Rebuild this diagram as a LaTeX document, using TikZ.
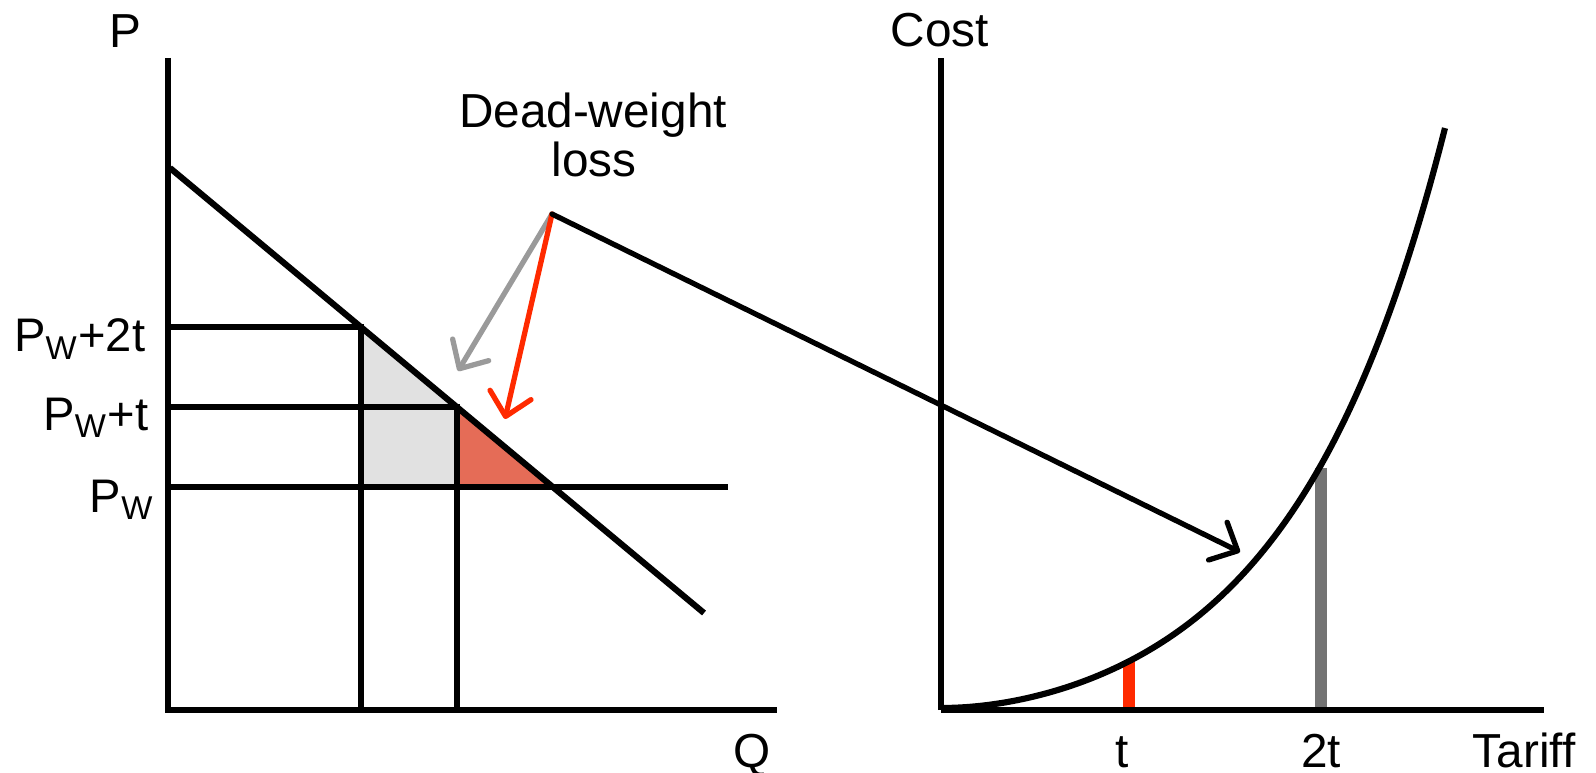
\documentclass[tikz,border=0pt]{standalone}
\usepackage{fontspec}
\setmainfont{Liberation Sans}
\usetikzlibrary{arrows.meta, positioning}
\definecolor{shadegray}{HTML}{E1E1E1}
\definecolor{shadered}{HTML}{E56C57}
\definecolor{arrowgray}{HTML}{9A9A9A}
\definecolor{tariffred}{HTML}{FF2A00}
\definecolor{bargray}{HTML}{737373}

\begin{document}
\begin{tikzpicture}[x=0.01cm, y=-0.01cm]
    \tikzstyle{axis} = [line width=1.75pt, black]
    \tikzstyle{lbl} = [font=\fontsize{13.57}{16}\selectfont, inner sep=0pt, anchor=base]
    \tikzstyle{plbl} = [font=\fontsize{13.4}{16}\selectfont, inner sep=0pt, anchor=base east]
    \tikzstyle{pointer} = [line width=1.5pt, line cap=round, -{Straight Barb[length=2.2mm, width=4.2mm, round]}]
    \tikzstyle{bar} = [line width=3.4pt]

    \useasboundingbox (0,0) rectangle (1596,773);

    % shaded areas
    \fill[shadegray] (361,327) -- (457,407) -- (457,487) -- (361,487) -- cycle;
    \fill[shadered] (457,407) -- (553,487) -- (457,487) -- cycle;

    % price / quantity
    \draw[axis] (168,58) -- (168,710) -- (777,710);
    \draw[axis] (170,168) -- (704,613);
    \draw[axis] (168,327) -- (361,327) -- (361,710);
    \draw[axis] (168,407) -- (457,407) -- (457,710);
    \draw[axis] (168,487) -- (728,487);

    \node (plabel) [lbl] at (125,48) {P};
    \node (qlabel) [lbl] at (752,767) {Q};
    \node (pw2t) [plbl] at (146,352) {P\textsubscript{W}+2t};
    \node (pwt) [plbl] at (149,430) {P\textsubscript{W}+t};
    \node (pw) [plbl] at (155,512) {P\textsubscript{W}};

    % cost / tariff
    \draw[bar, bargray] (1321,468) -- (1321,708);
    \draw[bar, tariffred] (1129,661) -- (1129,708);
    \draw[axis] (941,710) -- (941,58);
    \draw[axis] (941,710) -- (1544,710);
    \draw[axis] plot[domain=0:504, samples=100, smooth] ({941+\x}, {708-22.87*(exp(0.0065*\x)-1)+0.149*\x*exp(-\x/150)});

    \node (costlabel) [lbl] at (940,47) {Cost};
    \node (tlabel) [lbl] at (1122,767) {t};
    \node (ttlabel) [lbl] at (1321,767) {2t};
    \node (tarifflabel) [lbl] at (1524,767) {Tariff};

    % dead-weight loss
    \node (dwtext) [lbl] at (593,128) {Dead-weight};
    \node (losstext) [lbl] at (594,177) {loss};

    \coordinate (dwl) at (552,214);
    \coordinate (graytip) at (458,371);
    \coordinate (redtip) at (505,419);
    \coordinate (curvetip) at (1240,552);

    \draw[pointer, arrowgray] (dwl) -- (graytip);
    \draw[pointer, tariffred] (dwl) -- (redtip);
    \draw[pointer, black] (dwl) -- (curvetip);
\end{tikzpicture}
\end{document}
